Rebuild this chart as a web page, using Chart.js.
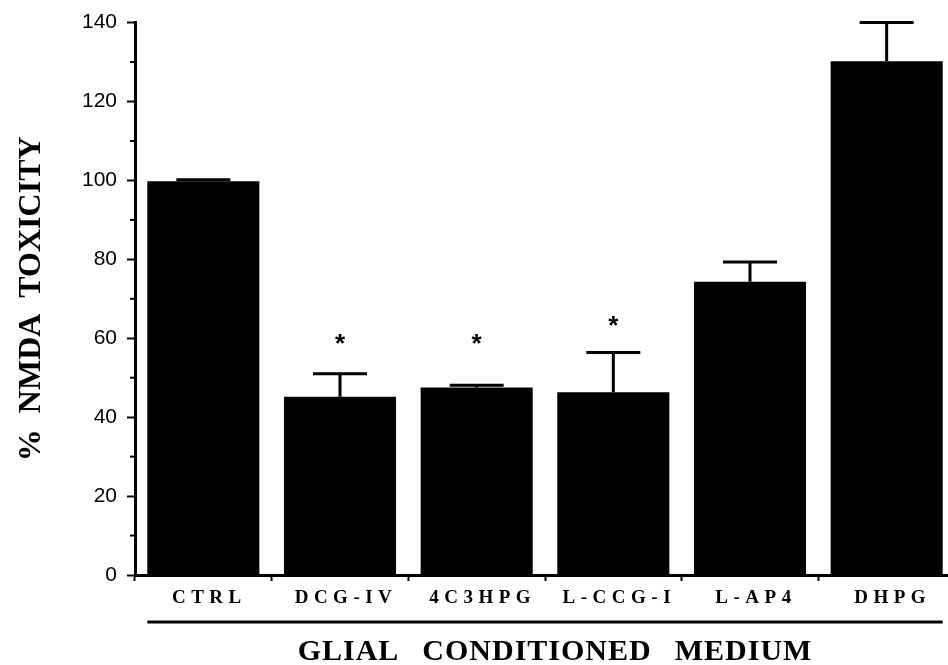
<!DOCTYPE html>
<html>
<head>
<meta charset="utf-8">
<script src="https://cdn.jsdelivr.net/npm/chart.js@4"></script>
<style>
  html, body { margin: 0; padding: 0; background: #fff; overflow: hidden; }
</style>
</head>
<body>
<canvas id="chart" width="960" height="665"></canvas>
<script>
// values (% of control NMDA toxicity)
const categories = ['CTRL', 'DCG-IV', '4C3HPG', 'L-CCG-I', 'L-AP4', 'DHPG'];
const toxicity = [99.8, 45.2, 47.5, 46.3, 74.3, 130.2];
const sem = [0.4, 5.8, 0.6, 10.1, 5.0, 9.8];
// where the significance stars sit (y value), null = no star
const starAt = [null, 59.6, 59.6, 64.2, null, null];
const groupTitle = 'GLIAL\u2002\u2009CONDITIONED\u2002\u2009MEDIUM';

const serif = '"Liberation Serif", "Times New Roman", serif';
const sans = '"Liberation Sans", Arial, sans-serif';

const extras = {
    id: 'extras',
    afterDatasetsDraw(chart) {
        const ctx = chart.ctx;
        const y = chart.scales.y;
        const meta = chart.getDatasetMeta(0);
        ctx.save();
        ctx.strokeStyle = '#000';
        ctx.lineWidth = 3;
        meta.data.forEach((bar, i) => {
            const top = y.getPixelForValue(toxicity[i]);
            const end = y.getPixelForValue(toxicity[i] + sem[i]);
            ctx.beginPath();
            ctx.moveTo(bar.x, top);
            ctx.lineTo(bar.x, end);
            ctx.moveTo(bar.x - 27, end);
            ctx.lineTo(bar.x + 27, end);
            ctx.stroke();
            if (starAt[i] != null) {
                ctx.fillStyle = '#000';
                ctx.font = 'bold 26px ' + sans;
                ctx.textAlign = 'center';
                ctx.textBaseline = 'middle';
                ctx.fillText('*', bar.x, y.getPixelForValue(starAt[i]) + 5);
            }
        });
        ctx.restore();
    },
    afterDraw(chart) {
        const ctx = chart.ctx;
        const x = chart.scales.x;
        const y = chart.scales.y;
        const meta = chart.getDatasetMeta(0);
        ctx.save();
        // minor ticks on the y axis
        ctx.strokeStyle = '#000';
        ctx.lineWidth = 2;
        for (let v = 10; v < 140; v += 20) {
            const py = y.getPixelForValue(v);
            ctx.beginPath();
            ctx.moveTo(y.right - 5, py);
            ctx.lineTo(y.right, py);
            ctx.stroke();
        }
        // category labels, spaced out
        ctx.fillStyle = '#000';
        ctx.font = 'bold 19px ' + serif;
        ctx.textAlign = 'center';
        ctx.textBaseline = 'alphabetic';
        ctx.letterSpacing = '5.5px';
        categories.forEach((c, i) => {
            ctx.fillText(c, x.getPixelForValue(i) + 6, x.top + 28);
        });
        // group line under the labels
        const first = meta.data[0], last = meta.data[meta.data.length - 1];
        ctx.lineWidth = 3;
        ctx.beginPath();
        ctx.moveTo(first.x - first.width / 2, x.top + 47);
        ctx.lineTo(last.x + last.width / 2, x.top + 47);
        ctx.stroke();
        // group title
        ctx.font = 'bold 30px ' + serif;
        ctx.letterSpacing = '1px';
        ctx.fillText(groupTitle, (first.x + last.x) / 2 + 10, x.top + 85);
        ctx.restore();
    }
};

const canvas = document.getElementById('chart');
const chart = new Chart(canvas, {
    type: 'bar',
    data: {
        labels: categories,
        datasets: [{
            data: toxicity,
            backgroundColor: '#000',
            borderWidth: 0,
            barPercentage: 0.82,
            categoryPercentage: 1.0
        }]
    },
    options: {
        responsive: false,
        animation: false,
        layout: { padding: { left: 0, right: 5, top: 22, bottom: 0 } },
        plugins: {
            legend: { display: false },
            tooltip: { enabled: false }
        },
        scales: {
            x: {
                offset: true,
                grid: {
                    offset: true,
                    drawOnChartArea: false,
                    drawTicks: true,
                    tickLength: 6,
                    tickWidth: 2,
                    tickColor: '#000'
                },
                border: { display: true, color: '#000', width: 3 },
                ticks: { display: false },
                afterFit: (scale) => { scale.height = 90; }
            },
            y: {
                min: 0,
                max: 140,
                ticks: {
                    stepSize: 10,
                    autoSkip: false,
                    padding: 10,
                    color: '#000',
                    font: { family: sans, size: 21 },
                    callback: (v) => (v % 20 === 0 ? v : '')
                },
                grid: {
                    drawOnChartArea: false,
                    drawTicks: true,
                    tickLength: 8,
                    tickWidth: 2,
                    tickColor: (c) => (c.tick && c.tick.value % 20 === 0 ? '#000' : 'rgba(0,0,0,0)')
                },
                border: { display: true, color: '#000', width: 3 },
                title: {
                    display: true,
                    text: '%\u2002NMDA\u2002TOXICITY',
                    color: '#000',
                    font: { family: serif, size: 32, weight: 'bold' },
                    padding: { top: 13, bottom: 0 }
                },
                afterFit: (scale) => { scale.width = 135; }
            }
        }
    },
    plugins: [extras]
});
</script>
</body>
</html>
